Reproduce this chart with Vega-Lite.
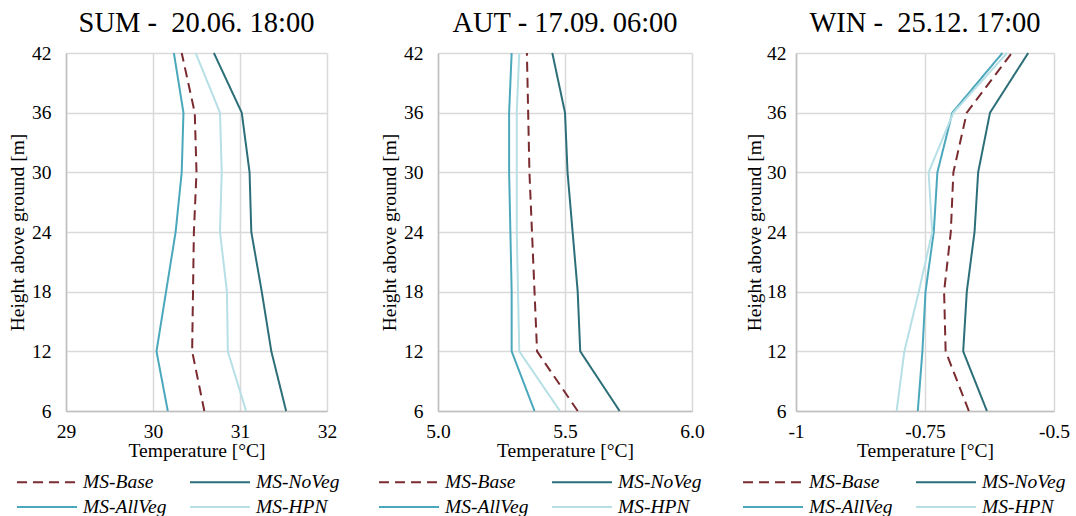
{
  "$schema": "https://vega.github.io/schema/vega-lite/v6.json",
  "background": "white",
  "padding": {"left": 7, "top": 8, "right": 0, "bottom": 0},
  "config": {
    "font": "Liberation Serif",
    "view": {"stroke": null},
    "axis": {
      "labelFont": "Liberation Serif", "titleFont": "Liberation Serif",
      "labelFontSize": 19.5, "titleFontSize": 19.5, "labelColor": "#000", "titleColor": "#000",
      "titleFontWeight": "normal", "gridColor": "#d9d9d9", "gridWidth": 1.5,
      "domainColor": "#bfbfbf", "domainWidth": 1.5, "ticks": false,
      "labelFlush": false, "labelOverlap": false
    },
    "title": {"font": "Liberation Serif", "fontSize": 28.5, "fontWeight": "normal", "color": "#000", "offset": 6},
    "legend": {
      "direction": "horizontal", "columns": 2, "title": null,
      "labelFont": "Liberation Serif", "labelFontSize": 19.5, "labelFontStyle": "italic", "labelColor": "#000",
      "symbolType": "M-3,0H3", "symbolSize": 400, "symbolStrokeWidth": 2.5,
      "columnPadding": 19, "rowPadding": 4, "labelOffset": 25, "gridAlign": "all"
    },
    "line": {"strokeWidth": 2}
  },
  "datasets": {
    "d": [
      {"p": "SUM", "s": "MS-Base", "h": 6, "t": 30.59}, {"p": "SUM", "s": "MS-Base", "h": 12, "t": 30.45}, {"p": "SUM", "s": "MS-Base", "h": 18, "t": 30.46}, {"p": "SUM", "s": "MS-Base", "h": 24, "t": 30.47}, {"p": "SUM", "s": "MS-Base", "h": 30, "t": 30.50}, {"p": "SUM", "s": "MS-Base", "h": 36, "t": 30.48}, {"p": "SUM", "s": "MS-Base", "h": 42, "t": 30.33},
      {"p": "SUM", "s": "MS-NoVeg", "h": 6, "t": 31.53}, {"p": "SUM", "s": "MS-NoVeg", "h": 12, "t": 31.36}, {"p": "SUM", "s": "MS-NoVeg", "h": 18, "t": 31.25}, {"p": "SUM", "s": "MS-NoVeg", "h": 24, "t": 31.13}, {"p": "SUM", "s": "MS-NoVeg", "h": 30, "t": 31.11}, {"p": "SUM", "s": "MS-NoVeg", "h": 36, "t": 31.02}, {"p": "SUM", "s": "MS-NoVeg", "h": 42, "t": 30.70},
      {"p": "SUM", "s": "MS-AllVeg", "h": 6, "t": 30.17}, {"p": "SUM", "s": "MS-AllVeg", "h": 12, "t": 30.04}, {"p": "SUM", "s": "MS-AllVeg", "h": 18, "t": 30.15}, {"p": "SUM", "s": "MS-AllVeg", "h": 24, "t": 30.26}, {"p": "SUM", "s": "MS-AllVeg", "h": 30, "t": 30.33}, {"p": "SUM", "s": "MS-AllVeg", "h": 36, "t": 30.35}, {"p": "SUM", "s": "MS-AllVeg", "h": 42, "t": 30.24},
      {"p": "SUM", "s": "MS-HPN", "h": 6, "t": 31.07}, {"p": "SUM", "s": "MS-HPN", "h": 12, "t": 30.86}, {"p": "SUM", "s": "MS-HPN", "h": 18, "t": 30.85}, {"p": "SUM", "s": "MS-HPN", "h": 24, "t": 30.77}, {"p": "SUM", "s": "MS-HPN", "h": 30, "t": 30.79}, {"p": "SUM", "s": "MS-HPN", "h": 36, "t": 30.77}, {"p": "SUM", "s": "MS-HPN", "h": 42, "t": 30.49},

      {"p": "AUT", "s": "MS-Base", "h": 6, "t": 5.55}, {"p": "AUT", "s": "MS-Base", "h": 12, "t": 5.39}, {"p": "AUT", "s": "MS-Base", "h": 18, "t": 5.38}, {"p": "AUT", "s": "MS-Base", "h": 24, "t": 5.37}, {"p": "AUT", "s": "MS-Base", "h": 30, "t": 5.36}, {"p": "AUT", "s": "MS-Base", "h": 36, "t": 5.355}, {"p": "AUT", "s": "MS-Base", "h": 42, "t": 5.35},
      {"p": "AUT", "s": "MS-NoVeg", "h": 6, "t": 5.715}, {"p": "AUT", "s": "MS-NoVeg", "h": 12, "t": 5.56}, {"p": "AUT", "s": "MS-NoVeg", "h": 18, "t": 5.55}, {"p": "AUT", "s": "MS-NoVeg", "h": 24, "t": 5.53}, {"p": "AUT", "s": "MS-NoVeg", "h": 30, "t": 5.51}, {"p": "AUT", "s": "MS-NoVeg", "h": 36, "t": 5.50}, {"p": "AUT", "s": "MS-NoVeg", "h": 42, "t": 5.45},
      {"p": "AUT", "s": "MS-AllVeg", "h": 6, "t": 5.38}, {"p": "AUT", "s": "MS-AllVeg", "h": 12, "t": 5.29}, {"p": "AUT", "s": "MS-AllVeg", "h": 18, "t": 5.29}, {"p": "AUT", "s": "MS-AllVeg", "h": 24, "t": 5.285}, {"p": "AUT", "s": "MS-AllVeg", "h": 30, "t": 5.28}, {"p": "AUT", "s": "MS-AllVeg", "h": 36, "t": 5.28}, {"p": "AUT", "s": "MS-AllVeg", "h": 42, "t": 5.29},
      {"p": "AUT", "s": "MS-HPN", "h": 6, "t": 5.48}, {"p": "AUT", "s": "MS-HPN", "h": 12, "t": 5.32}, {"p": "AUT", "s": "MS-HPN", "h": 18, "t": 5.315}, {"p": "AUT", "s": "MS-HPN", "h": 24, "t": 5.31}, {"p": "AUT", "s": "MS-HPN", "h": 30, "t": 5.31}, {"p": "AUT", "s": "MS-HPN", "h": 36, "t": 5.31}, {"p": "AUT", "s": "MS-HPN", "h": 42, "t": 5.32},

      {"p": "WIN", "s": "MS-Base", "h": 6, "t": -0.665}, {"p": "WIN", "s": "MS-Base", "h": 12, "t": -0.710}, {"p": "WIN", "s": "MS-Base", "h": 18, "t": -0.713}, {"p": "WIN", "s": "MS-Base", "h": 24, "t": -0.700}, {"p": "WIN", "s": "MS-Base", "h": 30, "t": -0.695}, {"p": "WIN", "s": "MS-Base", "h": 36, "t": -0.669}, {"p": "WIN", "s": "MS-Base", "h": 42, "t": -0.582},
      {"p": "WIN", "s": "MS-NoVeg", "h": 6, "t": -0.630}, {"p": "WIN", "s": "MS-NoVeg", "h": 12, "t": -0.676}, {"p": "WIN", "s": "MS-NoVeg", "h": 18, "t": -0.669}, {"p": "WIN", "s": "MS-NoVeg", "h": 24, "t": -0.654}, {"p": "WIN", "s": "MS-NoVeg", "h": 30, "t": -0.647}, {"p": "WIN", "s": "MS-NoVeg", "h": 36, "t": -0.624}, {"p": "WIN", "s": "MS-NoVeg", "h": 42, "t": -0.550},
      {"p": "WIN", "s": "MS-AllVeg", "h": 6, "t": -0.764}, {"p": "WIN", "s": "MS-AllVeg", "h": 12, "t": -0.755}, {"p": "WIN", "s": "MS-AllVeg", "h": 18, "t": -0.749}, {"p": "WIN", "s": "MS-AllVeg", "h": 24, "t": -0.733}, {"p": "WIN", "s": "MS-AllVeg", "h": 30, "t": -0.726}, {"p": "WIN", "s": "MS-AllVeg", "h": 36, "t": -0.697}, {"p": "WIN", "s": "MS-AllVeg", "h": 42, "t": -0.600},
      {"p": "WIN", "s": "MS-HPN", "h": 6, "t": -0.805}, {"p": "WIN", "s": "MS-HPN", "h": 12, "t": -0.790}, {"p": "WIN", "s": "MS-HPN", "h": 18, "t": -0.762}, {"p": "WIN", "s": "MS-HPN", "h": 24, "t": -0.736}, {"p": "WIN", "s": "MS-HPN", "h": 30, "t": -0.743}, {"p": "WIN", "s": "MS-HPN", "h": 36, "t": -0.695}, {"p": "WIN", "s": "MS-HPN", "h": 42, "t": -0.591}
    ]
  },
  "resolve": {"scale": {"color": "independent", "strokeDash": "independent", "x": "independent", "y": "independent"}, "legend": {"color": "independent", "strokeDash": "independent"}},
  "spacing": 39,
  "hconcat": [
    {
      "title": "SUM -\u00a0 20.06. 18:00",
      "width": 261, "height": 358,
      "data": {"name": "d"},
      "transform": [{"filter": "datum.p === 'SUM'"}],
      "mark": {"type": "line"},
      "encoding": {
        "x": {"field": "t", "type": "quantitative", "scale": {"domain": [29, 32], "nice": false, "zero": false}, "axis": {"title": "Temperature [°C]", "values": [29, 30, 31, 32], "labelPadding": 11, "titlePadding": 1}},
        "y": {"field": "h", "type": "quantitative", "scale": {"domain": [6, 42], "nice": false, "zero": false}, "axis": {"title": "Height above ground [m]", "values": [6, 12, 18, 24, 30, 36, 42], "labelPadding": 15, "titlePadding": 4}},
        "order": {"field": "h"},
        "detail": {"field": "s"},
        "color": {"field": "s", "type": "nominal", "scale": {"domain": ["MS-Base", "MS-NoVeg", "MS-AllVeg", "MS-HPN"], "range": ["#7a2b2f", "#2d6f78", "#4ba8bc", "#b6dfe6"]}, "legend": {"orient": "none", "legendX": -30, "legendY": 418}},
        "strokeDash": {"field": "s", "type": "nominal", "scale": {"domain": ["MS-Base", "MS-NoVeg", "MS-AllVeg", "MS-HPN"], "range": [[10, 6], [1, 0], [1, 0], [1, 0]]}, "legend": {"orient": "none", "legendX": -30, "legendY": 418}}
      }
    },
    {
      "title": "AUT - 17.09. 06:00",
      "width": 254, "height": 358,
      "data": {"name": "d"},
      "transform": [{"filter": "datum.p === 'AUT'"}],
      "mark": {"type": "line"},
      "encoding": {
        "x": {"field": "t", "type": "quantitative", "scale": {"domain": [5, 6], "nice": false, "zero": false}, "axis": {"title": "Temperature [°C]", "values": [5, 5.5, 6], "format": ".1f", "labelPadding": 11, "titlePadding": 1}},
        "y": {"field": "h", "type": "quantitative", "scale": {"domain": [6, 42], "nice": false, "zero": false}, "axis": {"title": "Height above ground [m]", "values": [6, 12, 18, 24, 30, 36, 42], "labelPadding": 15, "titlePadding": 4}},
        "order": {"field": "h"},
        "detail": {"field": "s"},
        "color": {"field": "s", "type": "nominal", "scale": {"domain": ["MS-Base", "MS-NoVeg", "MS-AllVeg", "MS-HPN"], "range": ["#7a2b2f", "#2d6f78", "#4ba8bc", "#b6dfe6"]}, "legend": {"orient": "none", "legendX": -40, "legendY": 418}},
        "strokeDash": {"field": "s", "type": "nominal", "scale": {"domain": ["MS-Base", "MS-NoVeg", "MS-AllVeg", "MS-HPN"], "range": [[10, 6], [1, 0], [1, 0], [1, 0]]}, "legend": {"orient": "none", "legendX": -40, "legendY": 418}}
      }
    },
    {
      "title": "WIN -\u00a0 25.12. 17:00",
      "width": 258, "height": 358,
      "data": {"name": "d"},
      "transform": [{"filter": "datum.p === 'WIN'"}],
      "mark": {"type": "line"},
      "encoding": {
        "x": {"field": "t", "type": "quantitative", "scale": {"domain": [-1, -0.5], "nice": false, "zero": false}, "axis": {"title": "Temperature [°C]", "values": [-1, -0.75, -0.5], "labelExpr": "'' + datum.value", "labelPadding": 11, "titlePadding": 1}},
        "y": {"field": "h", "type": "quantitative", "scale": {"domain": [6, 42], "nice": false, "zero": false}, "axis": {"title": "Height above ground [m]", "values": [6, 12, 18, 24, 30, 36, 42], "labelPadding": 10, "titlePadding": 2}},
        "order": {"field": "h"},
        "detail": {"field": "s"},
        "color": {"field": "s", "type": "nominal", "scale": {"domain": ["MS-Base", "MS-NoVeg", "MS-AllVeg", "MS-HPN"], "range": ["#7a2b2f", "#2d6f78", "#4ba8bc", "#b6dfe6"]}, "legend": {"orient": "none", "legendX": -34, "legendY": 418}},
        "strokeDash": {"field": "s", "type": "nominal", "scale": {"domain": ["MS-Base", "MS-NoVeg", "MS-AllVeg", "MS-HPN"], "range": [[10, 6], [1, 0], [1, 0], [1, 0]]}, "legend": {"orient": "none", "legendX": -34, "legendY": 418}}
      }
    }
  ]
}
